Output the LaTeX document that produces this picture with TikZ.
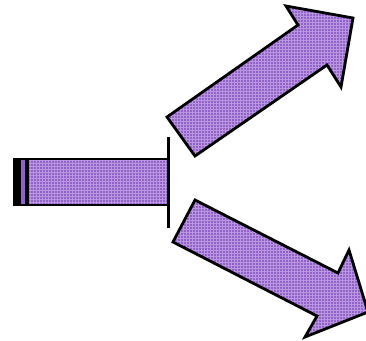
\documentclass[tikz,border=0pt]{standalone}
\usetikzlibrary{patterns}
\definecolor{arrowfill}{RGB}{146,98,198}
\definecolor{arrowlight}{RGB}{185,150,225}
\tikzset{
  texfill/.style={fill=arrowfill, postaction={pattern=grid, pattern color=arrowlight}},
  arrowline/.style={draw=black, line width=2.8pt, line join=miter},
  barline/.style={draw=black, line width=2.4pt},
}
\begin{document}
\begin{tikzpicture}[x=1pt,y=-1pt]
\useasboundingbox (0,0) rectangle (366,340);
% left bar
\fill[black] (13,158) rectangle (28,206);
\fill[arrowfill] (21,160) rectangle (25,204);
\path[texfill] (28,159) rectangle (168,205);
\draw[barline] (28,159) rectangle (168,205);
\draw[line width=3pt] (168,137) -- (168,228);
% upper arrow
\path[texfill] (167,117) -- (298,25) -- (286,6) -- (353,18) -- (341,87) -- (327,65) -- (195,156) -- cycle;
\draw[arrowline] (167,117) -- (298,25) -- (286,6) -- (353,18) -- (341,87) -- (327,65) -- (195,156) -- cycle;
% lower arrow
\path[texfill] (195,200) -- (338,273) -- (349,250) -- (368,312) -- (305,337) -- (317,316) -- (173,242) -- cycle;
\draw[arrowline] (195,200) -- (338,273) -- (349,250) -- (368,312) -- (305,337) -- (317,316) -- (173,242) -- cycle;
\end{tikzpicture}
\end{document}
